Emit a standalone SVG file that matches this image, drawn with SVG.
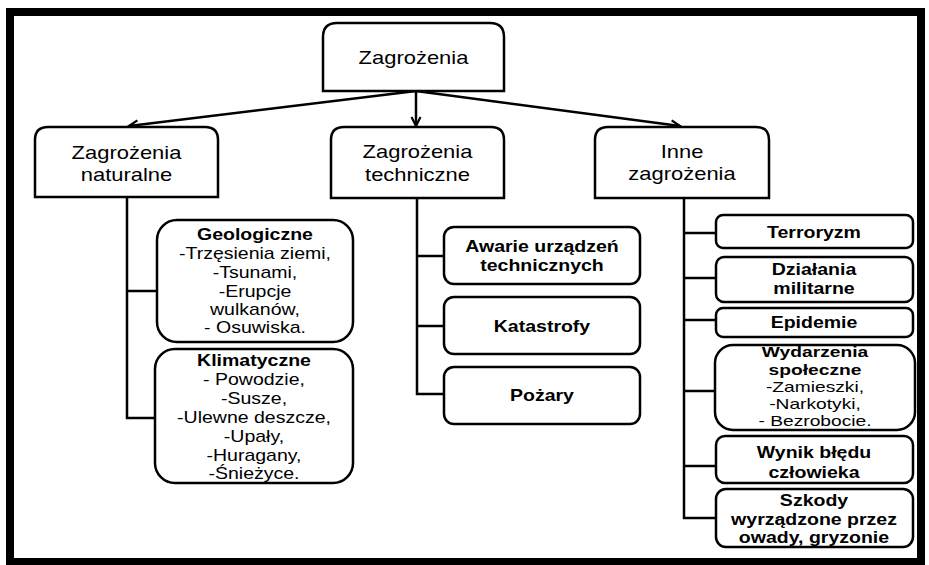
<svg xmlns="http://www.w3.org/2000/svg" width="929" height="565" viewBox="0 0 929 565">
<style>
.frame{fill:none;stroke:#000;stroke-width:8}
.box{fill:#fff;stroke:#000;stroke-width:2.5}
.ln{fill:none;stroke:#000;stroke-width:2.5}
.ar{fill:none;stroke:#000;stroke-width:2.5;marker-end:url(#arr)}
text{font-family:"Liberation Sans",Arial,sans-serif;font-size:16px;text-anchor:middle;fill:#000}
.h{font-size:18px}
.b{font-weight:bold}
.s{font-size:15px}
</style>
<defs>
<marker id="arr" viewBox="0 0 12 12" refX="10" refY="6" markerWidth="12" markerHeight="12" markerUnits="userSpaceOnUse" orient="auto">
<path d="M1,1.5 L10,6 L1,10.5" fill="none" stroke="#000" stroke-width="2.2"/>
</marker>
</defs>
<rect width="929" height="565" fill="#fff"/>
<rect class="frame" x="10" y="12" width="911" height="550"/>

<g id="connectors">
<line class="ar" x1="416" y1="91" x2="129" y2="126"/>
<line class="ar" x1="416" y1="91" x2="416" y2="126"/>
<line class="ar" x1="416" y1="91" x2="680" y2="126"/>
<path class="ln" d="M127,197 V418 H155 M127,291 H157"/>
<path class="ln" d="M417,198 V394 H444 M417,256 H444 M417,326 H444"/>
<path class="ln" d="M684,198 V518 H716 M684,233 H716 M684,278 H716 M684,320 H716 M684,391 H715 M684,466 H716"/>
</g>

<g id="n-root">
<path class="box" d="M323,91 V37 Q323,23 337,23 H490 Q504,23 504,37 V91 Z"/>
<text class="h" transform="translate(413.5 0) scale(1.22 1)" x="0" y="64">Zagrożenia</text>
</g>

<g id="n-naturalne">
<path class="box" d="M35,197 V140 Q35,127 48,127 H205 Q218,127 218,140 V197 Z"/>
<text class="h" transform="translate(126.5 0) scale(1.22 1)"><tspan x="0" y="159">Zagrożenia</tspan><tspan x="0" y="181">naturalne</tspan></text>
</g>

<g id="n-techniczne">
<path class="box" d="M331,198 V140 Q331,127 344,127 H491 Q504,127 504,140 V198 Z"/>
<text class="h" transform="translate(417.5 0) scale(1.22 1)"><tspan x="0" y="158">Zagrożenia</tspan><tspan x="0" y="181">techniczne</tspan></text>
</g>

<g id="n-inne">
<path class="box" d="M595,198 V140 Q595,127 608,127 H756 Q769,127 769,140 V198 Z"/>
<text class="h" transform="translate(682 0) scale(1.22 1)"><tspan x="0" y="158">Inne</tspan><tspan x="0" y="180">zagrożenia</tspan></text>
</g>

<g id="n-geologiczne">
<rect class="box" x="157" y="220" width="196" height="122" rx="20"/>
<text transform="translate(255 0) scale(1.22 1)"><tspan x="0" y="240" class="b">Geologiczne</tspan><tspan x="0" y="259">-Trzęsienia ziemi,</tspan><tspan x="0" y="278">-Tsunami,</tspan><tspan x="0" y="297">-Erupcje</tspan><tspan x="0" y="315">wulkanów,</tspan><tspan x="0" y="333">- Osuwiska.</tspan></text>
</g>

<g id="n-klimatyczne">
<rect class="box" x="155" y="349" width="198" height="134" rx="20"/>
<text transform="translate(254 0) scale(1.22 1)"><tspan x="0" y="366" class="b">Klimatyczne</tspan><tspan x="0" y="385">- Powodzie,</tspan><tspan x="0" y="404">-Susze,</tspan><tspan x="0" y="423">-Ulewne deszcze,</tspan><tspan x="0" y="442">-Upały,</tspan><tspan x="0" y="461">-Huragany,</tspan><tspan x="0" y="479">-Śnieżyce.</tspan></text>
</g>

<g id="n-awarie">
<rect class="box" x="444" y="227" width="196" height="57" rx="10"/>
<text class="b" transform="translate(542 0) scale(1.22 1)"><tspan x="0" y="252">Awarie urządzeń</tspan><tspan x="0" y="271">technicznych</tspan></text>
</g>

<g id="n-katastrofy">
<rect class="box" x="444" y="297" width="196" height="57" rx="10"/>
<text class="b" transform="translate(542 0) scale(1.22 1)" x="0" y="332">Katastrofy</text>
</g>

<g id="n-pozary">
<rect class="box" x="444" y="367" width="196" height="57" rx="10"/>
<text class="b" transform="translate(542 0) scale(1.22 1)" x="0" y="401">Pożary</text>
</g>

<g id="n-terroryzm">
<rect class="box" x="716" y="215" width="197" height="33" rx="7"/>
<text class="b" transform="translate(814 0) scale(1.22 1)" x="0" y="238">Terroryzm</text>
</g>

<g id="n-dzialania">
<rect class="box" x="716" y="257" width="197" height="45" rx="8"/>
<text class="b" transform="translate(814 0) scale(1.22 1)"><tspan x="0" y="275">Działania</tspan><tspan x="0" y="294">militarne</tspan></text>
</g>

<g id="n-epidemie">
<rect class="box" x="716" y="308" width="197" height="29" rx="7"/>
<text class="b" transform="translate(814 0) scale(1.22 1)" x="0" y="328">Epidemie</text>
</g>

<g id="n-wydarzenia">
<rect class="box" x="715" y="345" width="200" height="85" rx="18"/>
<text class="s" transform="translate(815 0) scale(1.28 1)"><tspan x="0" y="357" class="b">Wydarzenia</tspan><tspan x="0" y="375" class="b">społeczne</tspan><tspan x="0" y="392">-Zamieszki,</tspan><tspan x="0" y="409">-Narkotyki,</tspan><tspan x="0" y="426">- Bezrobocie.</tspan></text>
</g>

<g id="n-wynik">
<rect class="box" x="716" y="436" width="197" height="47" rx="9"/>
<text class="b" transform="translate(814 0) scale(1.22 1)"><tspan x="0" y="458">Wynik błędu</tspan><tspan x="0" y="478">człowieka</tspan></text>
</g>

<g id="n-szkody">
<rect class="box" x="716" y="489" width="197" height="58" rx="10"/>
<text class="b" transform="translate(814 0) scale(1.22 1)"><tspan x="0" y="506">Szkody</tspan><tspan x="0" y="525">wyrządzone przez</tspan><tspan x="0" y="543">owady, gryzonie</tspan></text>
</g>
</svg>
